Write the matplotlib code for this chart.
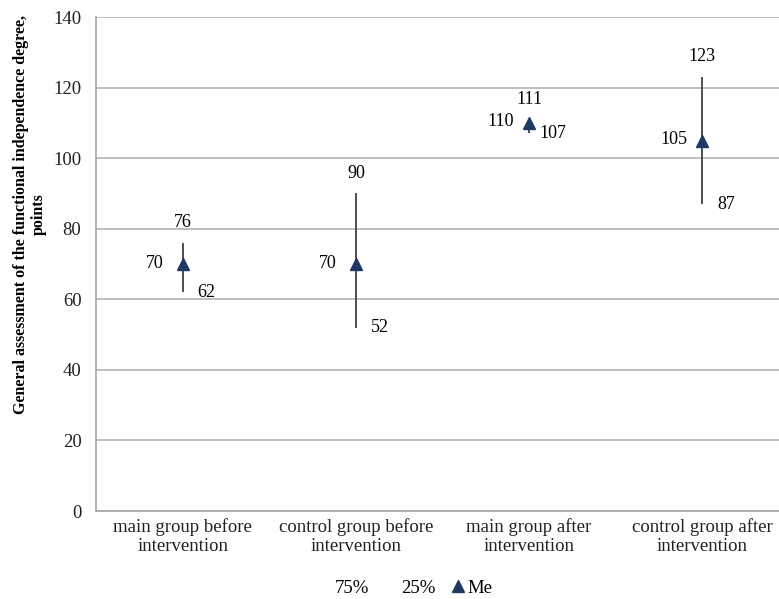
import matplotlib
matplotlib.use("Agg")
import matplotlib.pyplot as plt
from matplotlib.lines import Line2D

categories = ["main group before\nintervention", "control group before\nintervention",
              "main group after\nintervention", "control group after\nintervention"]
q75 = [76, 90, 111, 123]
q25 = [62, 52, 107, 87]
me = [70, 70, 110, 105]
yticks = [0, 20, 40, 60, 80, 100, 120, 140]

plt.rcParams['font.family'] = ['Liberation Serif', 'DejaVu Serif']

fig = plt.figure(figsize=(7.79, 5.99), dpi=100)
ax = fig.add_axes([96/779, 88/599, 693/779, 494/599])
x = list(range(len(categories)))

ax.set_xlim(-0.5, 3.5)
ax.set_ylim(0, 140)
ax.set_yticks(yticks)
ax.grid(axis='y', color='#b3b3b3', linewidth=1.2)
ax.set_axisbelow(True)
for s in ['top', 'right']:
    ax.spines[s].set_visible(False)
for s in ['left', 'bottom']:
    ax.spines[s].set_color('#a6a6a6')
    ax.spines[s].set_linewidth(1.2)
ax.tick_params(axis='both', length=0, labelsize=13.5, colors='#222222')
ax.tick_params(axis='y', pad=10.5)
ax.tick_params(axis='x', pad=5)
ax.set_xticks(x)
ax.set_xticklabels(categories)

ax.vlines(x, q25, q75, color='#404040', linewidth=1.3, zorder=3)
ax.plot(x, me, linestyle='none', marker='^', markersize=9, color='#1f3864', zorder=4)

for xi, h, l, m in zip(x, q75, q25, me):
    ax.annotate(str(h), (xi, h), xytext=(0, 20), textcoords='offset pixels',
                ha='center', va='center', fontsize=13)
    ax.annotate(str(l), (xi, l), xytext=(24, 0), textcoords='offset pixels',
                ha='center', va='center', fontsize=13)
    ax.annotate(str(m), (xi, m), xytext=(-28, 1), textcoords='offset pixels',
                ha='center', va='center', fontsize=13)

fig.text(30/779, 1 - 214/599,
         "General assessment of the functional independence degree,\npoints",
         rotation=90, ha='center', va='center', multialignment='center',
         fontsize=11.5, fontweight='bold')

handles = [Line2D([], [], linestyle='none'),
           Line2D([], [], linestyle='none'),
           Line2D([], [], linestyle='none', marker='^', markersize=8, color='#1f3864')]
fig.legend(handles, ['75%', '25%', 'Me'], loc='center', bbox_to_anchor=(406/779, 1 - 588/599),
           ncol=3, frameon=False, fontsize=13.5, handlelength=0.6, handletextpad=0.2,
           columnspacing=0.9)

fig.savefig("out.png", dpi=100)
